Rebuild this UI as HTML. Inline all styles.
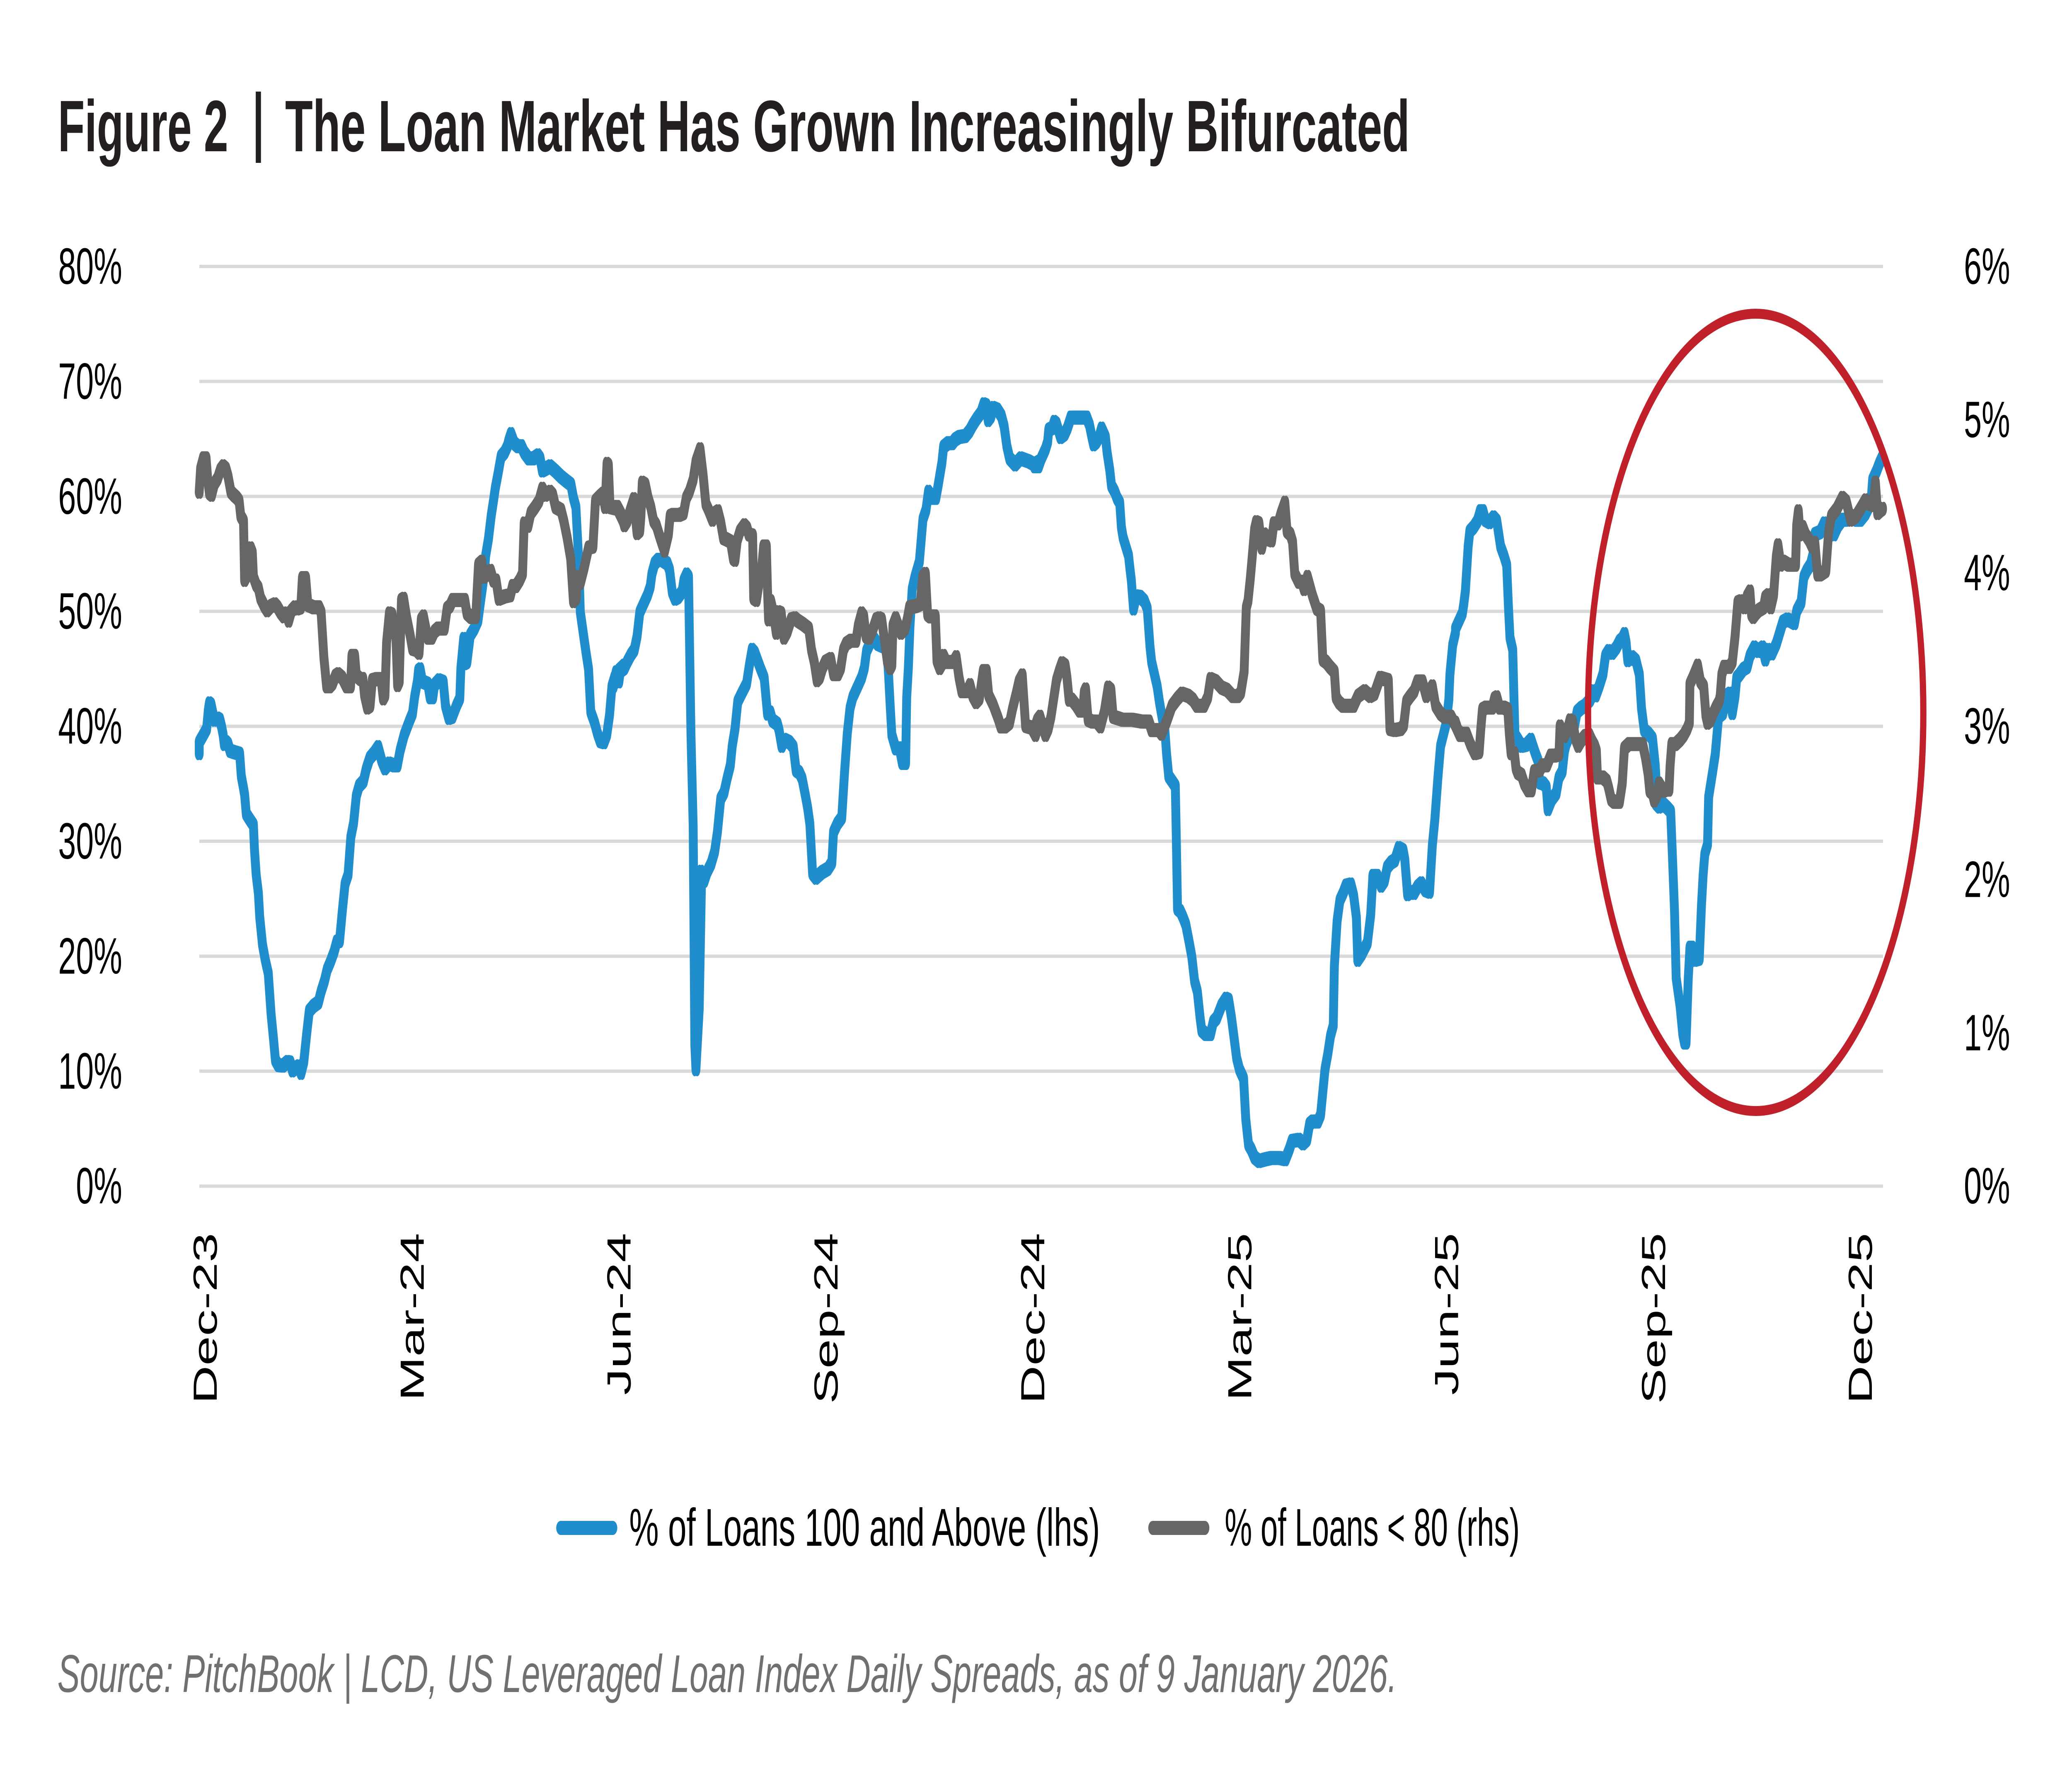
<!DOCTYPE html>
<html>
<head>
<meta charset="utf-8">
<style>
html,body{margin:0;padding:0;background:#fff;width:100%;height:100%;overflow:hidden;}
svg{display:block;width:100vw;height:100vh;}
text{font-family:"Liberation Sans",sans-serif;}
.b{fill:none;stroke:#208ecd;stroke-width:23.2;stroke-linejoin:round;stroke-linecap:round;}
.g{fill:none;stroke:#666666;stroke-width:23.2;stroke-linejoin:round;stroke-linecap:round;}
</style>
</head>
<body>
<svg viewBox="0 0 7972 4317" preserveAspectRatio="none" xmlns="http://www.w3.org/2000/svg">
<defs>
<polyline id="b1" points="25,830 25,812 40,800 52,790 58,760 62,748 68,750 75,765 80,775 92,773 100,775 107,788 112,800 116,815 124,812 130,815 137,826 150,828 172,831 178,868 185,885 190,898 196,930 210,940 222,948 226,990 232,1030 240,1060 245,1100 255,1145 265,1170 276,1192 286,1258 295,1300 302,1335 312,1343 330,1344 345,1338 356,1339 364,1352 375,1348 386,1345 395,1356 405,1338 415,1294 425,1254 440,1246 458,1240 468,1222 480,1205 490,1186 502,1173 515,1157 525,1140 535,1139 545,1090 555,1045 566,1030 576,968 586,945 596,900 606,884 622,876 632,856 645,838 660,830 675,820 688,842 700,855 715,847 732,850 745,850 755,826 770,800 790,776 800,765 808,737 818,712 822,694 828,692 836,712 856,716 864,738 874,738 880,718 896,710 912,713 920,752 932,772 945,770 960,752 972,740 976,690 986,642 990,682 998,680 1010,636 1025,625 1038,612 1048,578 1056,552 1062,530 1066,505 1076,478 1086,440 1096,410 1101,394 1111,370 1122,342 1135,335 1145,325 1150,316 1158,305 1170,320 1182,325 1196,325 1206,335 1222,345 1240,345 1256,340 1264,345 1272,365 1285,362 1300,358 1320,366 1340,375 1356,381 1376,388 1385,410 1394,425 1398,460 1405,520 1410,598 1420,630 1430,662 1440,692 1448,762 1462,780 1472,797 1482,810 1496,812 1506,800 1516,768 1525,720 1535,705 1550,694 1568,686"/>
<polyline id="b2" points="0,720 10,697 20,712 25,695 40,690 50,680 64,668 76,660 86,638 96,598 110,584 124,570 134,556 140,535 150,518 162,512 176,512 186,515 196,518 204,528 214,565 224,576 236,573 250,564 256,546 266,536 273,540 282,800 290,950 296,1310 300,1350 312,1250 320,1048 318,1025 330,1040 340,1026 355,1012 368,992 378,960 390,905 402,895 412,874 425,850 432,818 442,790 452,745 466,732 484,716 494,686 504,660 514,665 534,690 548,706 560,765 570,763 578,776 596,782 602,792 612,818 622,808 640,812 654,820 664,858 676,862 686,872 698,900 706,920 714,946 724,1028 736,1035 758,1026 780,1020 794,1010 800,960 814,946 830,936 840,862 850,798 860,756 870,738 886,722 902,706 912,690 920,662 934,648 945,640 960,650 985,655 994,656 1000,700 1006,752 1012,800 1026,822 1040,822 1050,846 1062,846 1066,738 1072,690 1078,620 1086,560 1096,540 1112,515 1125,445 1136,430 1145,400 1160,410 1172,410 1180,390 1194,352 1200,326 1216,320 1232,320 1242,314 1256,310 1280,308 1294,300 1306,290 1320,280 1336,270 1346,256 1356,258 1362,282 1372,276 1380,262 1396,265 1410,275 1420,292 1430,325 1440,345 1460,355 1480,345 1510,350 1530,355 1548,350"/>
<polyline id="b3" points="0,358 15,358 25,345 40,330 48,318 52,298 65,295 72,285 80,288 95,310 110,305 120,295 132,278 160,278 180,278 190,278 200,290 210,312 215,322 225,318 235,310 244,296 258,310 264,335 274,365 280,390 292,400 300,410 310,418 316,458 322,475 332,490 342,505 346,522 352,545 360,592 370,572 385,573 400,580 410,592 420,655 426,680 436,700 446,720 454,745 466,776 474,792 480,830 488,868 500,876 512,884 516,980 520,1086 530,1090 540,1100 550,1112 562,1140 572,1165 582,1205 592,1222 602,1265 608,1286 622,1292 640,1292 650,1272 662,1266 680,1245 696,1234 706,1236 716,1265 726,1300 735,1332 745,1350 760,1365 768,1432 778,1474 788,1482 800,1495 816,1501 840,1498 860,1496 892,1496 912,1498 926,1482 936,1468 962,1466 976,1472 990,1466 1000,1440 1010,1436 1030,1436 1040,1425 1050,1378 1056,1350 1066,1325 1076,1295 1086,1278 1090,1180 1100,1106 1110,1072 1122,1060 1132,1048 1150,1046 1160,1064 1170,1100 1175,1170 1190,1160 1210,1142 1222,1096 1230,1032 1246,1032 1260,1048 1272,1040 1282,1018 1296,1010 1310,1006 1324,986 1340,990 1346,1005 1356,1062 1370,1058 1380,1060 1392,1050 1406,1044 1420,1055 1436,1058 1446,982 1455,940 1466,872 1476,818 1486,800 1496,782 1506,742 1510,700 1520,652 1530,632"/>
<polyline id="b4" points="0,625 12,613 25,600 30,585 36,563 46,490 52,465 66,458 80,448 90,432 100,432 108,446 124,450 138,442 150,448 164,490 176,505 186,520 192,585 198,640 208,660 216,800 230,810 240,818 258,816 274,808 290,830 300,842 306,878 320,880 330,886 336,922 350,906 366,896 376,870 388,860 396,826 402,815 412,804 422,795 432,786 442,762 456,756 470,752 490,742 500,728 510,735 522,720 536,700 545,670 556,662 570,665 585,656 596,646 606,642 614,634 620,648 626,677 642,672 656,678 668,700 676,756 686,792 702,798 716,806 726,850 730,882 728,912 740,918 756,914 770,920 782,926 790,1018 796,1090 802,1200 816,1245 826,1292 832,1306 838,1306 846,1200 852,1150 860,1150 870,1170 886,1168 894,1080 900,1030 906,996 916,980 920,902 934,862 944,832 956,770 972,764 984,736 996,732 1006,764 1016,736 1022,706 1030,702 1046,692 1060,688 1070,670 1086,656 1100,662 1116,656 1126,676 1136,660 1150,666 1166,650 1178,632 1190,614 1206,610 1216,612 1232,616 1240,596 1256,582 1266,540 1276,530 1290,520 1300,502 1306,470 1326,466 1340,452 1356,456 1376,470 1390,456 1406,446 1420,446 1440,440 1456,446 1472,446 1490,436 1510,418 1516,380 1530,366 1540,354 1550,344"/>
<polyline id="g1" points="25,400 30,362 40,345 50,345 56,380 62,402 70,405 80,387 92,378 102,364 112,358 122,362 130,375 140,400 150,405 162,410 170,415 176,440 186,448 190,545 196,540 205,500 212,493 218,500 222,540 232,553 240,558 248,575 262,588 272,595 286,588 300,585 310,590 320,598 332,605 342,600 350,612 360,596 372,590 382,592 394,590 400,542 412,542 420,586 440,590 460,590 468,598 478,672 488,720 500,720 510,715 520,703 530,700 545,706 560,720 575,720 580,670 590,670 596,702 610,708 620,708 626,735 636,755 646,752 654,710 670,708 686,708 694,740 700,735 706,648 716,600 726,602 731,620 740,640 746,718 752,712 760,578 768,576 778,605 792,637 800,658 814,660 824,665 832,610 840,605 850,628 856,640 870,640 880,630 892,625 916,625 926,592 936,588 946,578 990,578 998,600 1012,606 1030,606 1040,520 1052,515 1060,540 1072,535 1084,530 1094,546 1104,546 1114,576 1136,572 1156,570 1164,555 1176,555 1190,545 1200,535 1206,452 1220,456 1230,435 1246,425 1260,415 1272,395 1284,405 1300,400 1310,405 1320,425 1340,430 1350,448 1362,475 1375,510 1385,580 1395,575 1400,540 1410,550 1424,525 1440,492 1456,490 1465,415 1480,408 1492,403 1500,425 1507,354 1512,356 1518,425 1545,428 1560,442 1568,450"/>
<polyline id="g2" points="0,425 15,425 30,438 40,455 50,448 60,432 74,412 80,440 86,468 96,464 100,440 105,385 116,388 126,410 136,425 146,448 156,455 166,470 176,484 186,497 200,470 206,440 216,438 240,438 255,435 265,410 276,400 290,380 300,350 315,330 326,372 336,420 346,430 360,446 370,435 380,432 390,450 400,476 410,478 426,482 436,510 442,512 450,480 460,465 476,455 486,460 492,470 506,472 510,575 520,578 530,548 540,520 546,490 556,490 560,560 564,610 572,580 582,600 592,632 600,598 610,600 620,640 632,630 646,610 660,608 670,612 690,618 710,625 720,660 730,680 740,710 750,705 760,690 770,680 790,675 800,700 816,700 826,690 836,660 846,650 862,645 882,645 890,620 902,600 910,605 918,638 930,640 942,628 955,610 966,608 975,610 986,646 996,680 1006,690 1012,685 1016,620 1026,608 1045,632 1060,625 1068,610 1076,590 1100,588 1115,585 1124,540 1134,535 1142,602 1150,605 1170,605 1176,678 1186,690 1196,682 1200,670 1210,680 1236,680 1246,672 1256,705 1266,728 1286,728 1296,718 1306,736 1318,746 1330,740 1344,695 1356,695 1364,735 1380,750 1398,772 1408,786 1424,786 1440,780 1450,758 1464,732 1474,712 1486,702 1498,785 1520,788 1534,800 1546,782 1556,780 1568,786"/>
<polyline id="g3" points="0,790 10,776 20,770 30,786 40,800 50,790 60,770 70,740 80,710 90,695 100,682 112,686 118,705 126,742 136,742 150,750 164,760 176,760 181,730 186,725 195,775 210,778 226,778 240,786 254,762 268,722 278,726 286,770 300,772 320,775 356,775 390,778 416,778 426,792 452,792 462,798 480,778 500,752 520,740 536,732 560,736 576,742 590,752 616,752 630,738 640,708 660,712 680,722 700,726 720,736 740,736 750,730 762,696 770,590 776,580 784,545 790,515 800,462 806,450 816,452 826,492 836,470 850,478 862,480 870,452 886,452 896,436 910,418 918,465 930,470 938,482 946,535 960,548 972,548 980,560 992,540 1010,570 1026,592 1040,596 1048,676 1060,680 1074,688 1090,696 1096,738 1106,746 1120,752 1160,752 1176,736 1200,728 1220,736 1236,732 1256,706 1286,710 1292,790 1310,792 1332,790 1342,784 1352,745 1366,736 1380,728 1392,712 1410,712 1424,736 1446,720 1458,752 1476,765 1490,770 1514,770 1530,784 1546,800 1568,800"/>
<polyline id="g4" points="0,780 10,794 20,798 40,798 54,815 70,830 86,828 92,790 98,758 110,755 134,755 142,740 150,738 160,755 176,755 190,758 196,800 202,830 214,830 220,855 226,862 240,866 250,880 264,891 276,891 286,860 306,858 316,850 332,850 346,834 362,834 376,832 380,786 396,802 408,790 416,776 426,778 436,806 446,818 456,810 470,802 486,800 496,810 506,818 512,826 516,870 536,870 550,876 556,886 566,906 576,910 596,910 606,880 614,822 630,815 660,815 680,815 690,836 700,864 706,892 716,896 722,908 732,900 740,880 756,892 766,890 776,890 780,850 786,815 800,815 816,808 830,800 842,790 850,780 852,716 862,706 872,695 880,686 890,712 902,720 910,768 916,780 926,776 936,765 946,755 958,745 962,736 968,700 976,688 996,688 1006,680 1016,638 1026,582 1036,580 1050,590 1060,572 1070,564 1076,602 1082,606 1092,600 1102,595 1120,590 1126,574 1136,570 1146,590 1156,570 1166,506 1172,488 1182,520 1192,515 1210,520 1236,520 1240,455 1246,432 1252,470 1262,458 1272,470 1286,480 1296,490 1306,484 1316,536 1326,536 1346,530 1356,466 1366,440 1386,428 1406,410 1420,416 1436,446 1456,440 1476,425 1490,414 1506,420 1518,422 1526,385 1534,435 1546,430 1552,428"/>
</defs>

<rect x="0" y="0" width="7972" height="4317" fill="#fff"/>

<!-- Title -->
<text x="223" y="365" font-size="176" font-weight="bold" fill="#231f20" textLength="655" lengthAdjust="spacingAndGlyphs">Figure 2</text>
<rect x="984" y="221" width="20" height="172" fill="#231f20"/>
<text x="1097" y="365" font-size="176" font-weight="bold" fill="#231f20" textLength="4327" lengthAdjust="spacingAndGlyphs">The Loan Market Has Grown Increasingly Bifurcated</text>

<!-- Gridlines -->
<g stroke="#d9d9d9" stroke-width="8">
<line x1="767" y1="643" x2="7245" y2="643"/>
<line x1="767" y1="920.4" x2="7245" y2="920.4"/>
<line x1="767" y1="1197.8" x2="7245" y2="1197.8"/>
<line x1="767" y1="1475.2" x2="7245" y2="1475.2"/>
<line x1="767" y1="1752.6" x2="7245" y2="1752.6"/>
<line x1="767" y1="2030" x2="7245" y2="2030"/>
<line x1="767" y1="2307.4" x2="7245" y2="2307.4"/>
<line x1="767" y1="2584.8" x2="7245" y2="2584.8"/>
<line x1="767" y1="2862.2" x2="7245" y2="2862.2"/>
</g>

<!-- Left axis labels -->
<g font-size="123" fill="#000" text-anchor="end">
<text x="470" y="685">80%</text>
<text x="470" y="962.4">70%</text>
<text x="470" y="1239.8">60%</text>
<text x="470" y="1517.2">50%</text>
<text x="470" y="1794.6">40%</text>
<text x="470" y="2072">30%</text>
<text x="470" y="2349.4">20%</text>
<text x="470" y="2626.8">10%</text>
<text x="470" y="2904.2">0%</text>
</g>

<!-- Right axis labels -->
<g font-size="123" fill="#000">
<text x="7556" y="685">6%</text>
<text x="7556" y="1054.9">5%</text>
<text x="7556" y="1424.7">4%</text>
<text x="7556" y="1794.6">3%</text>
<text x="7556" y="2164.5">2%</text>
<text x="7556" y="2534.3">1%</text>
<text x="7556" y="2904.2">0%</text>
</g>

<!-- X axis labels -->
<g font-size="128" fill="#000" text-anchor="end">
<text transform="translate(834,2975) rotate(-90)">Dec-23</text>
<text transform="translate(1630,2975) rotate(-90)">Mar-24</text>
<text transform="translate(2426,2975) rotate(-90)">Jun-24</text>
<text transform="translate(3222,2975) rotate(-90)">Sep-24</text>
<text transform="translate(4018,2975) rotate(-90)">Dec-24</text>
<text transform="translate(4814,2975) rotate(-90)">Mar-25</text>
<text transform="translate(5610,2975) rotate(-90)">Jun-25</text>
<text transform="translate(6406,2975) rotate(-90)">Sep-25</text>
<text transform="translate(7202,2975) rotate(-90)">Dec-25</text>
</g>

<!-- Blue series -->
<g class="b" transform="translate(740,600) scale(1.058673,1.466837)"><use href="#b1" x="-4.5"/><use href="#b1" x="4.5"/></g>
<g class="b" transform="translate(2360,600) scale(1.058673,1.466837)"><use href="#b2" x="-4.5"/><use href="#b2" x="4.5"/></g>
<g class="b" transform="translate(3980,600) scale(1.058673,1.466837)"><use href="#b3" x="-4.5"/><use href="#b3" x="4.5"/></g>
<g class="b" transform="translate(5600,600) scale(1.058673,1.466837)"><use href="#b4" x="-4.5"/><use href="#b4" x="4.5"/></g>

<!-- Gray series -->
<g class="g" transform="translate(740,600) scale(1.058673,1.466837)"><use href="#g1" x="-4.5"/><use href="#g1" x="4.5"/></g>
<g class="g" transform="translate(2360,600) scale(1.058673,1.466837)"><use href="#g2" x="-4.5"/><use href="#g2" x="4.5"/></g>
<g class="g" transform="translate(3980,600) scale(1.058673,1.466837)"><use href="#g3" x="-4.5"/><use href="#g3" x="4.5"/></g>
<g class="g" transform="translate(5600,600) scale(1.058673,1.466837)"><use href="#g4" x="-4.5"/><use href="#g4" x="4.5"/></g>

<!-- Red ellipse -->
<ellipse cx="6755" cy="1719" rx="645" ry="962" fill="none" stroke="#c0202a" stroke-width="24"/>

<!-- Legend -->
<rect x="2140" y="3670" width="235" height="34" rx="17" fill="#208ecd"/>
<text x="2421" y="3730" font-size="128" fill="#000" textLength="1811" lengthAdjust="spacingAndGlyphs">% of Loans 100 and Above (lhs)</text>
<rect x="4418" y="3670" width="235" height="34" rx="17" fill="#666666"/>
<text x="4712" y="3730" font-size="128" fill="#000" textLength="1135" lengthAdjust="spacingAndGlyphs">% of Loans &lt; 80 (rhs)</text>

<!-- Source -->
<text x="221" y="4083" font-size="128" font-style="italic" fill="#707070" textLength="5154" lengthAdjust="spacingAndGlyphs">Source: PitchBook | LCD, US Leveraged Loan Index Daily Spreads, as of 9 January 2026.</text>
</svg>
</body>
</html>
